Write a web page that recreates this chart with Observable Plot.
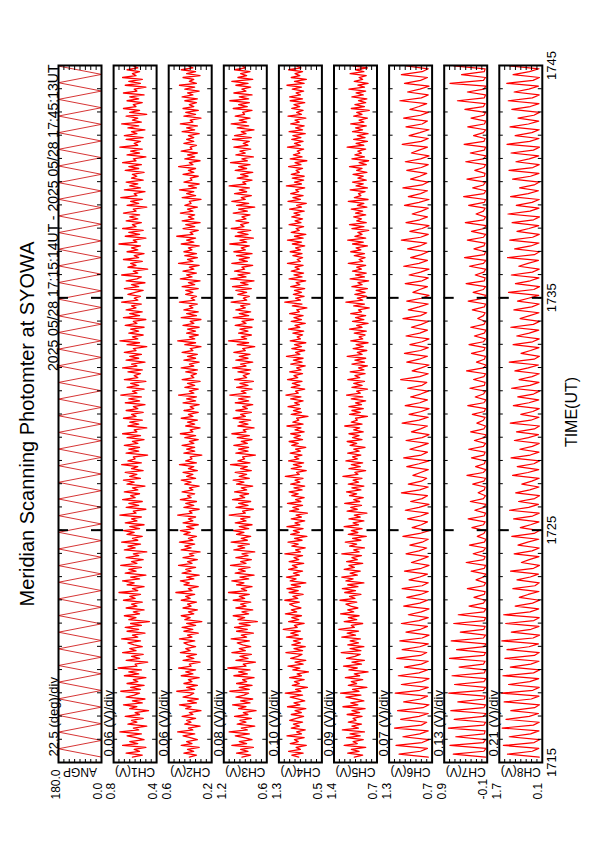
<!DOCTYPE html>
<html><head><meta charset="utf-8">
<script src="https://cdn.jsdelivr.net/npm/d3@7"></script>
<script src="https://cdn.jsdelivr.net/npm/@observablehq/plot@0.6"></script>
<style>
html,body{margin:0;padding:0;background:#fff;}
body{width:595px;height:842px;overflow:hidden;position:relative;}
#land{position:absolute;left:0;top:0;width:842px;height:595px;transform-origin:0 0;transform:translate(0px,842px) rotate(-90deg);}
#land svg{position:absolute;left:0;top:0;}
</style></head><body><div id="land"></div>
<script>
// ---- texts ----
const titleText = "Meridian Scanning Photomter at SYOWA";
const periodText = "2025 05/28 17:15:14UT - 2025 05/28 17:45:13UT";
const timeTicks = [0, 10, 20, 30];               // minutes after 17:15
const timeTickLabels = ["1715", "1725", "1735", "1745"];
const axisTitle = "TIME(UT)";
const panelNames = ["ANGP", "CH1(V)", "CH2(V)", "CH3(V)", "CH4(V)", "CH5(V)", "CH6(V)", "CH7(V)", "CH8(V)"];
const divLabels = ["22.5 (deg)/div", "0.06 (V)/div", "0.06 (V)/div", "0.08 (V)/div", "0.10 (V)/div", "0.09 (V)/div", "0.07 (V)/div", "0.13 (V)/div", "0.21 (V)/div"];
const topLabels = ["180.0", "0.8", "0.6", "1.2", "1.3", "1.4", "1.3", "0.9", "1.7"];
const bottomLabels = ["0.0", "0.4", "0.2", "0.6", "0.5", "0.7", "0.7", "-0.1", "0.1"];
const divValues = [22.5, 0.06, 0.06, 0.08, 0.10, 0.09, 0.07, 0.13, 0.21];
const lowValues = [0, 0.36, 0.16, 0.58, 0.50, 0.70, 0.72, -0.10, 0.06];

// ---- scan angle turning points (seconds after 17:15:00, degrees) ----
const angSec = [14,35.5,57,78.5,100,121.5,143,164.5,186,207.5,229,250.5,272,293.5,315,336.5,358,379.5,401,422.5,444,465.5,487,508.5,530,551.5,573,594.5,616,637.5,659,680.5,702,723.5,745,766.5,788,809.5,831,852.5,874,895.5,917,938.5,960,981.5,1003,1024.5,1046,1067.5,1089,1110.5,1132,1153.5,1175,1196.5,1218,1239.5,1261,1282.5,1304,1325.5,1347,1368.5,1390,1411.5,1433,1454.5,1476,1497.5,1519,1540.5,1562,1583.5,1605,1626.5,1648,1669.5,1691,1712.5,1734,1755.5,1777,1798.5];
const angDeg = [0,180,0,180,0,180,0,180,0,180,0,180,0,180,0,180,0,180,0,180,0,180,0,180,0,180,0,180,0,180,0,180,0,180,0,180,0,180,0,180,0,180,0,180,0,180,0,180,0,180,0,180,0,180,0,180,0,180,0,180,0,180,0,180,0,180,0,180,0,180,0,180,0,180,0,180,0,180,0,180,0,180,0,180];

// ---- photometer channels, sampled from 17:15:14 (CH1-5 every 5 s, CH6-8 every 7.5 s) ----
const startSec = 14;
const sampleStepSec = [5, 5, 5, 5, 5, 7.5, 7.5, 7.5];
const ch1 = [.63,.52,.70,.55,.61,.48,.74,.57,.66,.50,.59,.69,.53,.77,.56,.62,.47,.68,.58,.64,
.51,.71,.55,.60,.45,.66,.58,.73,.52,.63,.49,.70,.61,.55,.76,.54,.65,.50,.69,.57,
.62,.48,.72,.56,.67,.53,.79,.58,.60,.46,.70,.55,.64,.51,.74,.59,.66,.52,.61,.68,
.54,.75,.57,.63,.49,.69,.56,.71,.53,.65,.44,.67,.59,.72,.55,.62,.50,.70,.58,.64,
.52,.73,.60,.66,.54,.78,.57,.63,.50,.69,.61,.74,.55,.65,.48,.71,.59,.67,.53,.76,
.58,.64,.51,.70,.56,.62,.47,.72,.60,.68,.54,.75,.57,.63,.52,.69,.61,.73,.55,.66,
.50,.71,.58,.64,.53,.77,.59,.62,.48,.70,.56,.67,.52,.74,.60,.65,.55,.72,.57,.63,
.49,.69,.61,.73,.54,.66,.58,.71,.51,.64,.57,.75,.53,.68,.60,.62,.46,.70,.56,.67,
.55,.72,.57,.63,.50,.69,.54,.74,.58,.61,.47,.68,.56,.66,.52,.73,.59,.64,.51,.70,
.57,.62,.49,.71,.55,.67,.53,.76,.58,.63,.50,.69,.56,.65,.48,.72,.57,.61,.54,.68,
.52,.74,.58,.64,.49,.70,.56,.66,.53,.72,.59,.62,.47,.69,.55,.77,.57,.63,.51,.67,
.56,.65,.50,.71,.58,.62,.48,.73,.55,.66,.52,.70,.59,.64,.53,.75,.57,.61,.54,.68,
.60,.51,.72,.56,.64,.49,.70,.58,.53,.75,.57,.62,.46,.68,.59,.65,.52,.73,.56,.61,
.50,.69,.57,.64,.54,.78,.58,.62,.48,.71,.55,.67,.51,.74,.59,.63,.53,.70,.57,.66,
.55,.73,.59,.62,.47,.69,.56,.65,.52,.76,.58,.61,.49,.72,.54,.66,.57,.70,.51,.64,
.58,.63,.50,.71,.56,.67,.53,.74,.59,.62,.48,.69,.55,.65,.52,.77,.57,.61,.54,.70,
.51,.72,.58,.64,.49,.68,.56,.75,.53,.63,.57,.70,.47,.66,.55,.73,.59,.62,.52,.69,
.56,.66,.50,.73,.58,.61,.48,.71,.54,.67,.52,.74,.59,.63,.55,.69,.57,.62,.53,.71];
const ch2 = [.41,.33,.47,.36,.43,.30,.50,.38,.44,.32,.40,.48,.35,.54,.37,.42,.29,.46,.39,.44,
.34,.49,.37,.41,.28,.45,.39,.52,.33,.43,.31,.48,.40,.36,.55,.35,.44,.32,.47,.38,
.42,.30,.50,.37,.45,.34,.53,.39,.41,.29,.48,.36,.44,.33,.51,.40,.45,.34,.42,.47,
.35,.52,.38,.43,.31,.47,.37,.49,.34,.44,.27,.46,.40,.50,.36,.42,.32,.48,.39,.43,
.33,.50,.40,.45,.35,.56,.38,.42,.31,.47,.41,.51,.36,.44,.30,.49,.39,.45,.34,.53,
.38,.43,.32,.48,.36,.41,.29,.50,.39,.46,.35,.52,.37,.42,.33,.47,.40,.51,.36,.44,
.31,.48,.37,.42,.34,.54,.38,.41,.30,.47,.36,.45,.33,.51,.39,.43,.35,.49,.37,.41,
.30,.46,.39,.50,.34,.44,.37,.48,.32,.42,.36,.52,.33,.45,.38,.40,.27,.47,.35,.44,
.35,.49,.36,.41,.31,.46,.34,.51,.37,.40,.29,.45,.35,.43,.32,.50,.37,.42,.31,.47,
.36,.40,.30,.48,.34,.44,.33,.53,.36,.41,.31,.46,.35,.43,.29,.49,.36,.39,.33,.45,
.32,.50,.36,.41,.30,.47,.34,.43,.32,.49,.37,.40,.28,.46,.34,.54,.35,.41,.31,.44,
.34,.43,.30,.48,.36,.40,.28,.50,.33,.44,.31,.47,.37,.41,.32,.52,.35,.39,.33,.45,
.37,.45,.31,.49,.35,.42,.29,.51,.38,.44,.33,.48,.36,.41,.30,.53,.37,.43,.32,.46,
.33,.47,.38,.42,.30,.50,.36,.44,.34,.55,.37,.40,.31,.48,.35,.45,.29,.49,.36,.42,
.35,.51,.37,.43,.32,.46,.39,.41,.28,.49,.34,.44,.36,.52,.33,.42,.30,.47,.38,.40,
.31,.48,.36,.42,.34,.53,.37,.41,.29,.46,.35,.43,.32,.50,.38,.40,.33,.47,.36,.44,
.36,.42,.30,.49,.35,.44,.32,.51,.37,.40,.28,.47,.34,.45,.31,.48,.36,.41,.33,.46,
.32,.49,.37,.43,.30,.46,.35,.52,.33,.41,.36,.48,.29,.44,.34,.50,.37,.42,.31,.45];
const ch3 = [.95,.82,1.03,.86,.97,.78,1.10,.88,.99,.80,.92,1.05,.84,1.14,.87,.96,.76,1.02,.89,.98,
.81,1.06,.86,.93,.74,1.00,.89,1.09,.83,.97,.79,1.04,.92,.85,1.13,.84,.99,.80,1.03,.88,
.94,.77,1.07,.87,1.00,.83,1.16,.89,.93,.75,1.04,.86,.98,.81,1.10,.90,.99,.82,.94,1.02,
.84,1.11,.88,.96,.78,1.03,.87,1.06,.83,.99,.72,1.01,.91,1.08,.85,.95,.79,1.04,.89,.97,
.82,1.08,.91,.99,.84,1.15,.88,.96,.80,1.03,.92,1.10,.85,.98,.77,1.05,.90,1.00,.83,1.12,
.89,.97,.81,1.04,.86,.95,.76,1.07,.91,1.01,.84,1.11,.87,.96,.82,1.03,.92,1.08,.85,.99,
.80,1.05,.89,.97,.83,1.14,.90,.94,.78,1.04,.86,1.00,.82,1.09,.91,.98,.85,1.06,.88,.96,
.79,1.03,.92,1.08,.84,.99,.88,1.05,.81,.97,.87,1.12,.83,1.01,.91,.94,.75,1.04,.86,1.00,
.85,1.07,.87,.96,.80,1.02,.84,1.10,.89,.93,.77,1.01,.86,.99,.82,1.08,.90,.97,.81,1.04,
.87,.94,.79,1.05,.85,1.00,.83,1.13,.89,.96,.80,1.03,.86,.98,.78,1.06,.88,.93,.84,1.01,
.82,1.09,.89,.97,.79,1.04,.86,.99,.83,1.07,.90,.94,.76,1.02,.85,1.15,.88,.96,.81,1.00,
.86,.98,.80,1.05,.89,.95,.78,1.08,.85,.99,.82,1.04,.90,.97,.83,1.11,.88,.93,.84,1.01,
.88,1.04,.81,1.09,.86,.97,.77,1.12,.89,1.01,.83,1.06,.91,.95,.79,1.10,.87,.99,.84,1.03,
.80,1.07,.90,.96,.84,1.13,.88,.98,.78,1.05,.86,1.01,.82,1.11,.92,.97,.85,1.04,.89,.95,
.83,1.08,.87,1.00,.76,1.03,.85,1.10,.90,.96,.81,1.06,.88,.99,.84,1.14,.89,.94,.80,1.02,
.86,.97,.79,1.05,.88,1.00,.83,1.12,.87,.95,.78,1.04,.90,.98,.82,1.07,.86,.93,.84,1.09,
.81,1.06,.89,.96,.77,1.02,.85,1.11,.88,.99,.83,1.05,.91,.94,.80,1.08,.87,1.00,.84,1.13,
.85,.99,.80,1.07,.89,.95,.82,1.04,.86,1.10,.79,1.01,.88,.97,.83,1.06,.90,.94,.85,1.02];
const ch4 = [.93,1.06,.85,1.12,.90,.98,.79,1.09,.94,1.01,.83,1.15,.88,.97,.81,1.07,.92,1.03,.86,1.10,
.98,.84,1.07,.88,1.00,.80,1.14,.91,1.02,.82,.95,1.09,.86,1.18,.89,.99,.77,1.05,.92,1.01,
.83,1.10,.88,.96,.75,1.04,.91,1.13,.85,1.00,.80,1.08,.95,.87,1.17,.86,1.02,.81,1.06,.90,
1.03,.86,1.16,.94,1.08,.90,1.22,.96,1.01,.83,1.12,.93,1.06,.88,1.18,.97,1.07,.89,1.02,1.10,
.92,1.19,.95,1.04,.85,1.11,.94,1.15,.90,1.07,.80,1.09,.98,1.16,.92,1.03,.86,1.12,.96,1.05,
.84,1.11,.93,1.02,.86,1.19,.90,.99,.81,1.06,.94,1.13,.87,1.01,.78,1.08,.92,1.03,.85,1.15,
.91,1.00,.82,1.07,.88,.98,.77,1.10,.93,1.04,.86,1.14,.89,.99,.83,1.06,.94,1.11,.87,1.02,
.82,1.08,.91,1.00,.85,1.18,.92,.97,.79,1.07,.88,1.03,.84,1.12,.93,1.01,.87,1.09,.90,.99,
.80,1.06,.94,1.11,.86,1.02,.90,1.08,.83,1.00,.89,1.15,.85,1.04,.93,.97,.76,1.07,.88,1.03,
.90,1.13,.92,1.01,.85,1.08,.89,1.17,.94,.99,.82,1.07,.91,1.05,.87,1.14,.95,1.02,.86,1.10,
.89,.97,.81,1.08,.87,1.03,.85,1.16,.91,.99,.82,1.06,.88,1.01,.80,1.09,.90,.96,.86,1.04,
.84,1.12,.91,1.00,.81,1.07,.88,1.02,.85,1.10,.92,.97,.78,1.05,.87,1.19,.90,.99,.83,1.03,
.88,1.01,.82,1.08,.91,.98,.80,1.11,.87,1.02,.84,1.07,.92,1.00,.85,1.14,.90,.96,.86,1.04,
.87,1.09,.90,.99,.82,1.05,.88,1.14,.85,1.01,.80,1.07,.92,.98,.84,1.11,.89,1.00,.86,1.06,
.91,1.02,.83,1.10,.88,.97,.79,1.13,.90,1.04,.85,1.08,.93,.99,.82,1.16,.88,1.01,.84,1.05,
.83,1.07,.92,.98,.86,1.12,.89,1.00,.78,1.09,.87,1.03,.91,.96,.84,1.14,.90,1.01,.85,1.06,
.89,1.04,.81,1.11,.86,.99,.83,1.08,.92,1.00,.80,1.13,.88,.97,.85,1.06,.91,1.02,.82,1.09,
.86,1.10,.90,.98,.84,1.05,.88,1.15,.83,1.01,.79,1.07,.91,1.00,.86,1.12,.89,.97,.85,1.04];
const ch5 = [1.08,.94,1.19,1.00,1.13,.89,1.25,1.03,1.10,.93,1.21,.98,1.15,.91,1.28,1.01,1.12,.96,1.18,1.05,
1.10,.95,1.20,.99,1.12,.90,1.27,1.02,1.14,.92,1.06,1.22,.97,1.31,1.00,1.11,.87,1.18,1.04,1.13,
.94,1.23,.99,1.08,.85,1.17,1.03,1.26,.96,1.12,.91,1.21,1.07,.98,1.30,.97,1.15,.92,1.19,1.01,
1.15,.98,1.29,1.06,1.20,1.01,1.34,1.08,1.13,.94,1.25,1.04,1.18,1.00,1.31,1.09,1.19,1.02,1.14,1.22,
1.04,1.32,1.07,1.16,.97,1.24,1.06,1.28,1.02,1.19,.92,1.22,1.10,1.29,1.03,1.15,.98,1.25,1.08,1.17,
.94,1.21,1.03,1.12,.96,1.29,1.00,1.09,.91,1.16,1.04,1.23,.97,1.11,.88,1.18,1.02,1.13,.95,1.25,
1.01,1.10,.92,1.17,.98,1.08,.87,1.20,1.03,1.14,.96,1.24,.99,1.09,.93,1.16,1.04,1.21,.97,1.12,
.92,1.18,1.01,1.10,.95,1.27,1.02,1.07,.89,1.17,.98,1.13,.94,1.22,1.03,1.11,.97,1.19,1.00,1.09,
.90,1.15,1.04,1.20,.95,1.11,1.00,1.17,.93,1.09,.99,1.24,.95,1.13,1.03,1.06,.86,1.16,.98,1.12,
.93,1.17,.96,1.06,.89,1.13,.94,1.21,.98,1.04,.86,1.12,.95,1.09,.91,1.19,.99,1.07,.90,1.15,
.92,1.01,.86,1.12,.91,1.07,.89,1.20,.95,1.03,.87,1.10,.93,1.05,.85,1.14,.94,1.00,.90,1.08,
.88,1.16,.95,1.04,.85,1.11,.92,1.06,.89,1.14,.96,1.01,.83,1.09,.91,1.22,.94,1.03,.87,1.07,
.90,1.05,.86,1.12,.95,1.02,.84,1.15,.91,1.06,.88,1.11,.96,1.04,.89,1.18,.94,1.00,.90,1.08,
.91,1.14,.97,1.05,.86,1.11,.93,1.19,.89,1.07,.95,1.02,.84,1.12,.92,1.16,.88,1.04,.96,1.09,
.89,1.06,.94,1.13,.87,1.03,.92,1.18,.85,1.08,.97,1.01,.90,1.15,.86,1.05,.93,1.11,.88,1.02,
.93,1.10,.87,1.04,.95,1.16,.88,1.00,.84,1.12,.91,1.07,.96,1.02,.89,1.20,.92,1.05,.86,1.09,
.90,1.03,.85,1.11,.94,1.06,.88,1.14,.92,1.00,.86,1.09,.95,1.04,.83,1.13,.91,1.07,.89,1.01,
.87,1.12,.93,1.05,.89,1.17,.91,1.02,.85,1.08,.94,1.00,.88,1.15,.92,1.06,.86,1.10,.90,1.03];
const ch6 = [.77,1.15,.87,.78,1.19,.85,.76,1.10,.88,.77,1.21,.86,.79,1.13,.89,.77,1.17,.84,.76,1.09,.87,
.78,1.20,.88,.77,1.12,.85,.76,1.16,.89,.78,1.08,.86,.77,1.18,.87,.79,1.11,.88,.77,1.14,.85,
.76,1.06,.87,.78,1.12,.89,.77,1.03,.86,.76,1.09,.88,.78,1.05,.87,.77,1.11,.85,
.77,1.02,.88,.78,1.08,.86,.76,.99,.87,.77,1.06,.89,.79,1.01,.85,.77,1.10,.88,.76,.98,.86,
.78,1.04,.87,.77,1.07,.89,.76,1.00,.85,.78,1.12,.88,.77,1.03,.86,.79,.97,.87,.77,1.05,.89,
.76,1.09,.86,.78,1.01,.88,.77,1.06,.85,.76,.99,.87,.78,1.11,.89,.77,1.02,.86,.76,1.07,.88,
.78,1.00,.87,.77,1.04,.85,.79,1.13,.88,.77,.98,.86,.76,1.05,.89,.78,1.08,.87,.77,1.01,.85,
.76,1.06,.88,.78,.99,.86,.77,1.10,.87,.79,1.03,.89,.77,1.05,.86,.76,.97,.88,.78,1.07,.85,
.77,1.02,.87,.76,1.09,.89,.78,1.00,.86,.77,1.04,.88,.79,1.12,.87,.77,1.01,.85,.76,1.06,.88,
.78,.98,.86,.77,1.08,.89,.76,1.03,.87,.78,1.10,.85,.77,1.00,.88,.79,1.05,.86,.77,1.07,.87,
.76,.99,.89,.78,1.11,.86,.77,1.02,.88,.76,1.06,.85,.78,1.09,.87,.77,1.01,.89,.79,1.14,.86,
.77,1.04,.88,.76,1.08,.87,.78,1.12,.85,.77,1.06,.88];
const ch7 = [-.06,.72,-.02,-.07,.80,-.01,-.06,.66,-.03,-.05,.84,-.02,-.06,.70,-.01,
-.07,.78,-.02,-.06,.61,-.03,-.05,.83,-.01,-.06,.69,-.02,-.07,.75,-.03,-.06,.58,-.01,
-.05,.81,-.02,-.06,.64,-.03,-.07,.77,-.01,-.06,.55,-.02,-.05,.71,-.03,-.06,.60,-.02,
-.07,.34,-.01,-.06,.22,-.03,-.05,.38,-.02,-.06,.17,-.01,-.07,.29,-.03,-.06,.41,-.02,
-.05,.24,-.01,-.06,.33,-.03,-.07,.14,-.02,-.06,.27,-.01,-.05,.36,-.03,-.06,.20,-.02,
-.07,.31,-.01,-.06,.12,-.03,-.05,.25,-.02,-.06,.39,-.01,-.07,.18,-.03,-.06,.28,-.02,
-.05,.35,-.01,-.06,.21,-.03,-.07,.30,-.02,-.06,.15,-.01,-.05,.26,-.03,-.06,.37,-.02,
-.07,.19,-.01,-.06,.32,-.03,-.05,.23,-.02,-.06,.40,-.01,-.07,.16,-.03,-.06,.28,-.02,
-.05,.34,-.01,-.06,.21,-.03,-.07,.30,-.02,-.06,.13,-.01,-.05,.26,-.03,-.06,.36,-.02,
-.07,.24,-.01,-.06,.41,-.03,-.05,.19,-.02,-.06,.33,-.01,-.07,.45,-.03,-.06,.22,-.02,
-.05,.38,-.01,-.06,.28,-.03,-.07,.43,-.02,-.06,.17,-.01,-.05,.35,-.03,-.06,.47,-.02,
-.07,.25,-.01,-.06,.39,-.03,-.05,.20,-.02,-.06,.42,-.01,-.07,.31,-.03,-.06,.46,-.02,
-.05,.23,-.01,-.06,.37,-.03,-.07,.29,-.02,-.06,.44,-.01,-.05,.62,-.03,-.06,.38,-.02,
-.07,.80,-.01,-.06,.52,-.03,-.05,.71,-.02];
const ch8 = [.18,1.42,.45,.20,1.58,.38,.17,1.35,.52,.19,1.63,.41,.18,1.48,.57,
.21,1.29,.36,.17,1.55,.49,.19,1.66,.43,.18,1.38,.55,.20,1.60,.40,.17,1.31,.51,
.19,1.52,.37,.18,1.44,.58,.21,1.64,.42,.17,1.27,.50,.19,1.49,.39,.18,1.57,.54,
.20,1.12,.44,.17,.96,.61,.19,1.21,.35,.18,1.05,.53,.21,1.30,.40,.17,.88,.57,
.19,1.16,.46,.18,1.01,.63,.20,1.25,.38,.17,.92,.52,.19,1.18,.44,.18,1.34,.59,
.21,.99,.36,.17,1.10,.55,.19,.86,.47,.18,1.22,.62,.20,1.04,.39,.17,1.28,.53,
.19,.94,.45,.18,1.15,.60,.21,1.07,.37,.17,1.31,.51,.19,.90,.43,.18,1.19,.58,
.20,1.02,.40,.17,1.26,.54,.19,.97,.46,.18,1.13,.61,.21,1.35,.38,.17,.89,.52,
.19,1.20,.44,.18,1.06,.57,.20,1.29,.41,.17,.93,.55,.19,1.17,.47,.18,1.03,.60,
.20,1.38,.39,.17,1.11,.53,.19,1.27,.45,.18,.98,.62,.21,1.42,.37,.17,1.14,.51,
.19,1.33,.44,.18,1.05,.58,.20,1.24,.40,.17,1.40,.54,.19,1.08,.46,.18,1.30,.61,
.21,.95,.38,.17,1.22,.52,.19,1.36,.43,.18,1.09,.57,.20,1.28,.41,.17,1.44,.55,
.19,1.12,.47,.18,1.32,.60,.20,1.01,.39,.17,1.25,.53,.19,1.39,.45,.18,1.16,.59,
.21,1.45,.42,.17,1.20,.56,.19,1.34,.44];

const channels = [ch1, ch2, ch3, ch4, ch5, ch6, ch7, ch8];

// ---- layout (landscape sheet, later turned to portrait) ----
const W = 842, H = 595;
const mLeft = 79, mRight = 66, panelTop0 = 58, panelPitch = 55.1, panelH = 43;
const font = "'Liberation Sans', Arial, Helvetica, sans-serif";
const land = document.getElementById("land");

const series = [angSec.map((s, i) => ({t: s / 60, v: angDeg[i]}))]
  .concat(channels.map((arr, c) => arr.map((v, i) => ({t: (startSec + sampleStepSec[c] * i) / 60, v}))));

const minorTicks = d3.range(0, 31, 1);
const majorTicks = [10, 20];
const plotW = W - mLeft - mRight;

series.forEach((data, i) => {
  const top = panelTop0 + i * panelPitch;
  const lo = lowValues[i], hi = lo + 8 * divValues[i];
  const valueTicks = d3.range(1, 8).map(k => lo + k * divValues[i]);
  const lineOpts = i === 0
    ? {x: "t", y: "v", stroke: "#cc0000", strokeWidth: 0.8, clip: true}
    : {x: "t", y: "v", stroke: "#ff0000", strokeWidth: i <= 5 ? 1.3 : 1.2, clip: true};
  const marks = [
    Plot.line(data, lineOpts),
    Plot.tickX(minorTicks, {x: d => d, insetBottom: panelH - 4}),
    Plot.tickX(minorTicks, {x: d => d, insetTop: panelH - 4}),
    Plot.tickX(majorTicks, {x: d => d, insetBottom: panelH - 10, strokeWidth: 2}),
    Plot.tickX(majorTicks, {x: d => d, insetTop: panelH - 10, strokeWidth: 2}),
    Plot.tickY(valueTicks, {y: d => d, insetRight: plotW - 4}),
    Plot.tickY(valueTicks, {y: d => d, insetLeft: plotW - 4}),
    Plot.frame({strokeWidth: 2}),
    Plot.text([divLabels[i]], {text: d => d, frameAnchor: "top-left", textAnchor: "start", lineAnchor: "bottom", dx: 6, dy: -1, fontSize: 13}),
    Plot.text([topLabels[i]], {text: d => d, frameAnchor: "top-left", textAnchor: "start", lineAnchor: "middle", dx: -37, dy: -2, fontSize: 12}),
    Plot.text([bottomLabels[i]], {text: d => d, frameAnchor: "bottom-left", textAnchor: "start", lineAnchor: "bottom", dx: -37, dy: 0, fontSize: 12}),
    Plot.text([panelNames[i]], {text: d => d, frameAnchor: "left", textAnchor: "middle", lineAnchor: "middle", rotate: -90, dx: -9, fontSize: 12})
  ];
  if (i === 0) {
    marks.push(Plot.text([titleText], {text: d => d, frameAnchor: "top", textAnchor: "middle", lineAnchor: "bottom", dx: -10, dy: -25, fontSize: 20}));
    marks.push(Plot.text([periodText], {text: d => d, frameAnchor: "top-right", textAnchor: "end", lineAnchor: "bottom", dx: 1, dy: -1, fontSize: 14}));
  }
  if (i === series.length - 1) {
    marks.push(Plot.text(timeTicks, {x: d => d, text: (d, j) => timeTickLabels[j], frameAnchor: "bottom", textAnchor: "middle", lineAnchor: "top", dy: 4, fontSize: 13}));
    marks.push(Plot.text([axisTitle], {text: d => d, frameAnchor: "bottom", textAnchor: "middle", lineAnchor: "bottom", dx: 2, dy: 35, fontSize: 16}));
  }
  const svg = Plot.plot({
    width: W, height: H,
    marginLeft: mLeft, marginRight: mRight,
    marginTop: top, marginBottom: H - top - panelH,
    x: {domain: [0, 30], axis: null},
    y: {domain: [lo, hi], axis: null},
    style: {background: "transparent", fontFamily: font, overflow: "visible", maxWidth: "none"},
    marks
  });
  land.appendChild(svg);
});
</script>
</body></html>
